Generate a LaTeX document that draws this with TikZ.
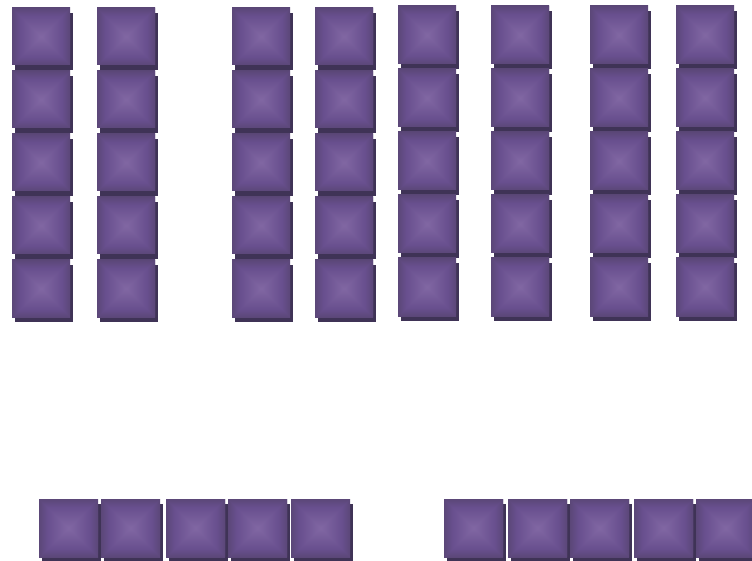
\documentclass[tikz,border=0pt]{standalone}
\definecolor{tedge}{HTML}{5B4778}
\definecolor{tmid}{HTML}{684F8E}
\definecolor{tcen}{HTML}{8167A3}
\definecolor{tshadow}{HTML}{3F3356}
\pgfdeclareverticalshading{tilev}{100bp}{color(0bp)=(tedge); color(25bp)=(tedge); color(32bp)=(tmid); color(50bp)=(tcen); color(68bp)=(tmid); color(75bp)=(tedge); color(100bp)=(tedge)}
\pgfdeclarehorizontalshading{tileh}{100bp}{color(0bp)=(tedge); color(25bp)=(tedge); color(32bp)=(tmid); color(50bp)=(tcen); color(68bp)=(tmid); color(75bp)=(tedge); color(100bp)=(tedge)}
\tikzset{
  tilebox/.style={rectangle, inner sep=0pt, outer sep=0pt, anchor=north west,
    path picture={
      \shade[shading=tilev] (path picture bounding box.south west) rectangle (path picture bounding box.north east);
      \shade[shading=tileh]
        (path picture bounding box.north west) -- (path picture bounding box.center) -- (path picture bounding box.south west) -- cycle
        (path picture bounding box.north east) -- (path picture bounding box.center) -- (path picture bounding box.south east) -- cycle;
    }},
  tileshadow/.style={fill=tshadow}
}
\newcommand\mytile[5]{%
  \fill[tileshadow] (#2+3,#3+5) rectangle ++(#4,#5);
  \node[tilebox, minimum width=#4pt, minimum height=#5pt] (#1) at (#2,#3) {};
}
\begin{document}
\begin{tikzpicture}[x=1pt,y=-1pt]
\useasboundingbox (0,0) rectangle (752,561);
\foreach \c/\x in {1/12,2/97,3/232,4/315}{
  \foreach \r in {0,...,4}{
    \mytile{a\c\r}{\x}{8+63*\r}{58}{57}
  }
}
\foreach \c/\x in {5/398,6/491,7/590,8/676}{
  \foreach \r in {0,...,4}{
    \mytile{a\c\r}{\x}{6+63*\r}{58}{58}
  }
}
\foreach \c/\x in {1/39,2/101,3/166,4/228,5/291}{
  \mytile{b\c}{\x}{499}{59}{58}
}
\foreach \c/\x in {1/444,2/508,3/570,4/634,5/696}{
  \mytile{d\c}{\x}{499}{59}{58}
}
\end{tikzpicture}
\end{document}
